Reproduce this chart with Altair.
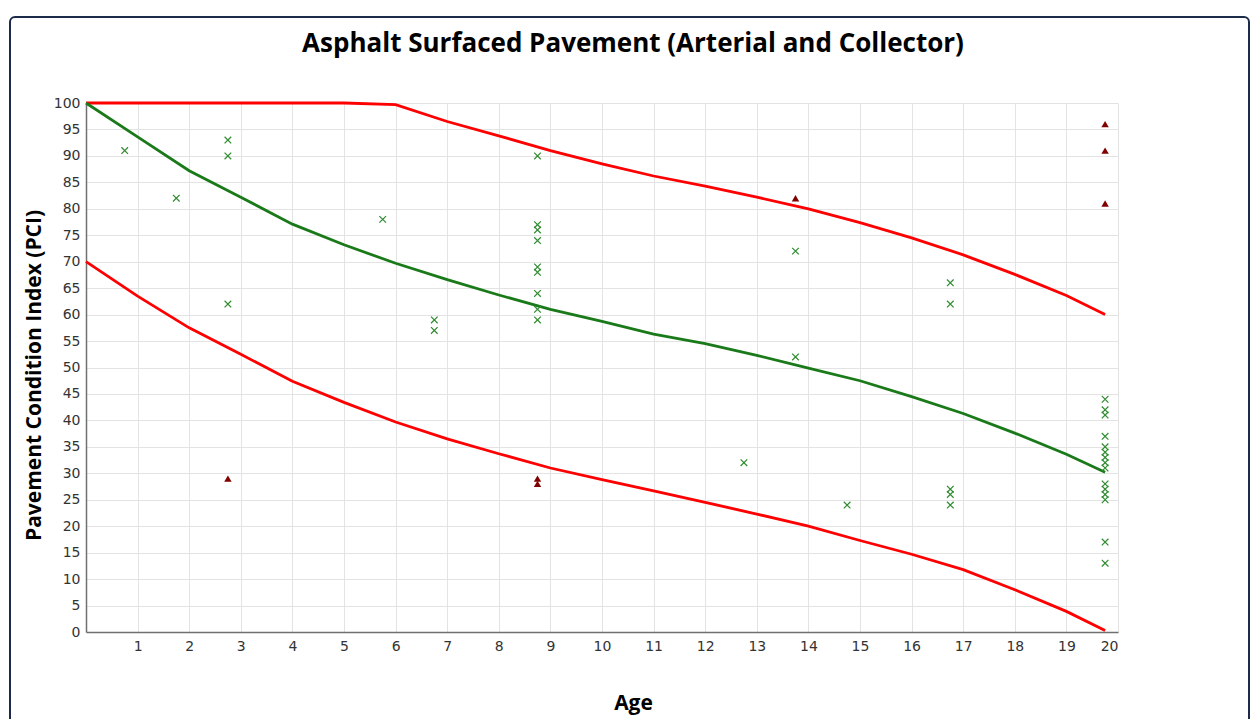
import altair as alt
import pandas as pd

# ---- data ----
LINE_AGE = [0, 1, 2, 3, 4, 5, 6, 7, 8, 9, 10, 11, 12, 13, 14, 15, 16, 17, 18, 19, 19.75]
UPPER = [100, 100, 100, 100, 100, 100, 99.7, 96.5, 93.8, 91.0, 88.5, 86.2, 84.3, 82.2, 80.0, 77.4, 74.5, 71.3, 67.6, 63.6, 60.0]
MEAN = [100, 93.6, 87.2, 82.2, 77.1, 73.2, 69.7, 66.6, 63.7, 61.0, 58.7, 56.3, 54.5, 52.3, 49.9, 47.5, 44.5, 41.3, 37.6, 33.6, 30.2]
LOWER = [70, 63.5, 57.5, 52.5, 47.4, 43.4, 39.7, 36.5, 33.7, 31.0, 28.8, 26.7, 24.5, 22.3, 20.0, 17.3, 14.7, 11.8, 8.0, 3.9, 0.3]

OBS_AGE = [0.75, 1.75, 2.75, 2.75, 2.75, 5.75, 6.75, 6.75,
           8.75, 8.75, 8.75, 8.75, 8.75, 8.75, 8.75, 8.75, 8.75,
           12.75, 13.75, 13.75, 14.75,
           16.75, 16.75, 16.75, 16.75, 16.75,
           19.75, 19.75, 19.75, 19.75, 19.75, 19.75, 19.75, 19.75,
           19.75, 19.75, 19.75, 19.75, 19.75, 19.75, 19.75]
OBS_PCI = [91, 82, 93, 90, 62, 78, 59, 57,
           90, 77, 76, 74, 69, 68, 64, 61, 59,
           32, 72, 52, 24,
           66, 62, 27, 26, 24,
           44, 42, 41, 37, 35, 34, 33, 32,
           31, 28, 27, 26, 25, 17, 13]

OUT_AGE = [2.75, 8.75, 8.75, 13.75, 19.75, 19.75, 19.75]
OUT_PCI = [29, 29, 28, 82, 96, 91, 81]

SERIES = ["Upper", "Mean", "Lower"]
SERIES_COLORS = ["#ff0000", "#1a7a1a", "#ff0000"]

TITLE = "Asphalt Surfaced Pavement (Arterial and Collector)"
X_TICKS = [float(v) for v in range(1, 21)]
Y_TICKS = [float(v) for v in range(0, 101, 5)]

# ---- tables ----
lines = pd.DataFrame({
    "age": LINE_AGE * 3,
    "pci": UPPER + MEAN + LOWER,
    "series": [s for s in SERIES for _ in LINE_AGE],
})
obs = pd.DataFrame({"age": OBS_AGE, "pci": OBS_PCI})
out = pd.DataFrame({"age": OUT_AGE, "pci": OUT_PCI})
one = pd.DataFrame({"t": [TITLE]})

W, H = 1032, 529
PAD = {"left": 78, "top": 95, "right": 133, "bottom": 87}

xscale = alt.Scale(domain=[0, 20], nice=False, zero=False)
yscale = alt.Scale(domain=[0, 100], nice=False, zero=False)

xaxis = alt.Axis(values=X_TICKS, title="Age", ticks=False, labelPadding=7,
                 grid=True, labelOverlap=False,
                 labelFont="DejaVu Sans", labelFontSize=14, labelColor="#333333",
                 titleX=547, titleY=71, titleBaseline="middle", titleAlign="center")
yaxis = alt.Axis(values=Y_TICKS, title="Pavement Condition Index (PCI)", ticks=False,
                 labelPadding=6, grid=True, labelOverlap=False,
                 labelFont="DejaVu Sans", labelFontSize=14, labelColor="#333333",
                 titleX=-52, titleY=272, titleBaseline="middle", titleAlign="center",
                 titleAngle=270)

X = alt.X("age:Q", scale=xscale, axis=xaxis)
Y = alt.Y("pci:Q", scale=yscale, axis=yaxis)

line_layer = alt.Chart(lines).mark_line(strokeWidth=2.8).encode(
    x=X, y=Y,
    color=alt.Color("series:N", scale=alt.Scale(domain=SERIES, range=SERIES_COLORS), legend=None),
    detail="series:N",
)

obs_layer = alt.Chart(obs).mark_point(
    shape="M-1,-1L1,1M1,-1L-1,1", filled=False, size=44, strokeWidth=1.2, color="#2e8b2e", opacity=1
).encode(x=X, y=Y)

out_layer = alt.Chart(out).mark_point(
    shape="triangle-up", filled=True, size=55, color="#800000", opacity=1
).encode(x=X, y=Y)

frame = alt.Chart(one).mark_rect(
    fill=None, stroke="#1c2b4a", strokeWidth=2, cornerRadius=5
).encode(
    x=alt.value(-76), x2=alt.value(W + PAD["right"] - 2),
    y=alt.value(-86), y2=alt.value(H + PAD["bottom"] + 10),
)

title_text = alt.Chart(one).mark_text(
    font="Open Sans", fontSize=26, fontWeight="bold", color="#000000",
    align="center", baseline="middle",
).encode(
    x=alt.value(547), y=alt.value(-59), text="t:N",
)

chart = alt.layer(line_layer, obs_layer, out_layer, frame, title_text).properties(
    width=W, height=H,
    autosize=alt.AutoSizeParams(type="none"),
    padding=PAD,
).configure_view(strokeWidth=0).configure_axis(
    titleFont="Open Sans", titleFontSize=21, titleFontWeight="bold", titleColor="#000000",
    gridColor="#e3e3e3", gridWidth=1,
    domainColor="#707070", domainWidth=1.5,
).configure_axisY(tickCount=21)

chart.save("out.html", embed_options={"renderer": "svg", "actions": False})
